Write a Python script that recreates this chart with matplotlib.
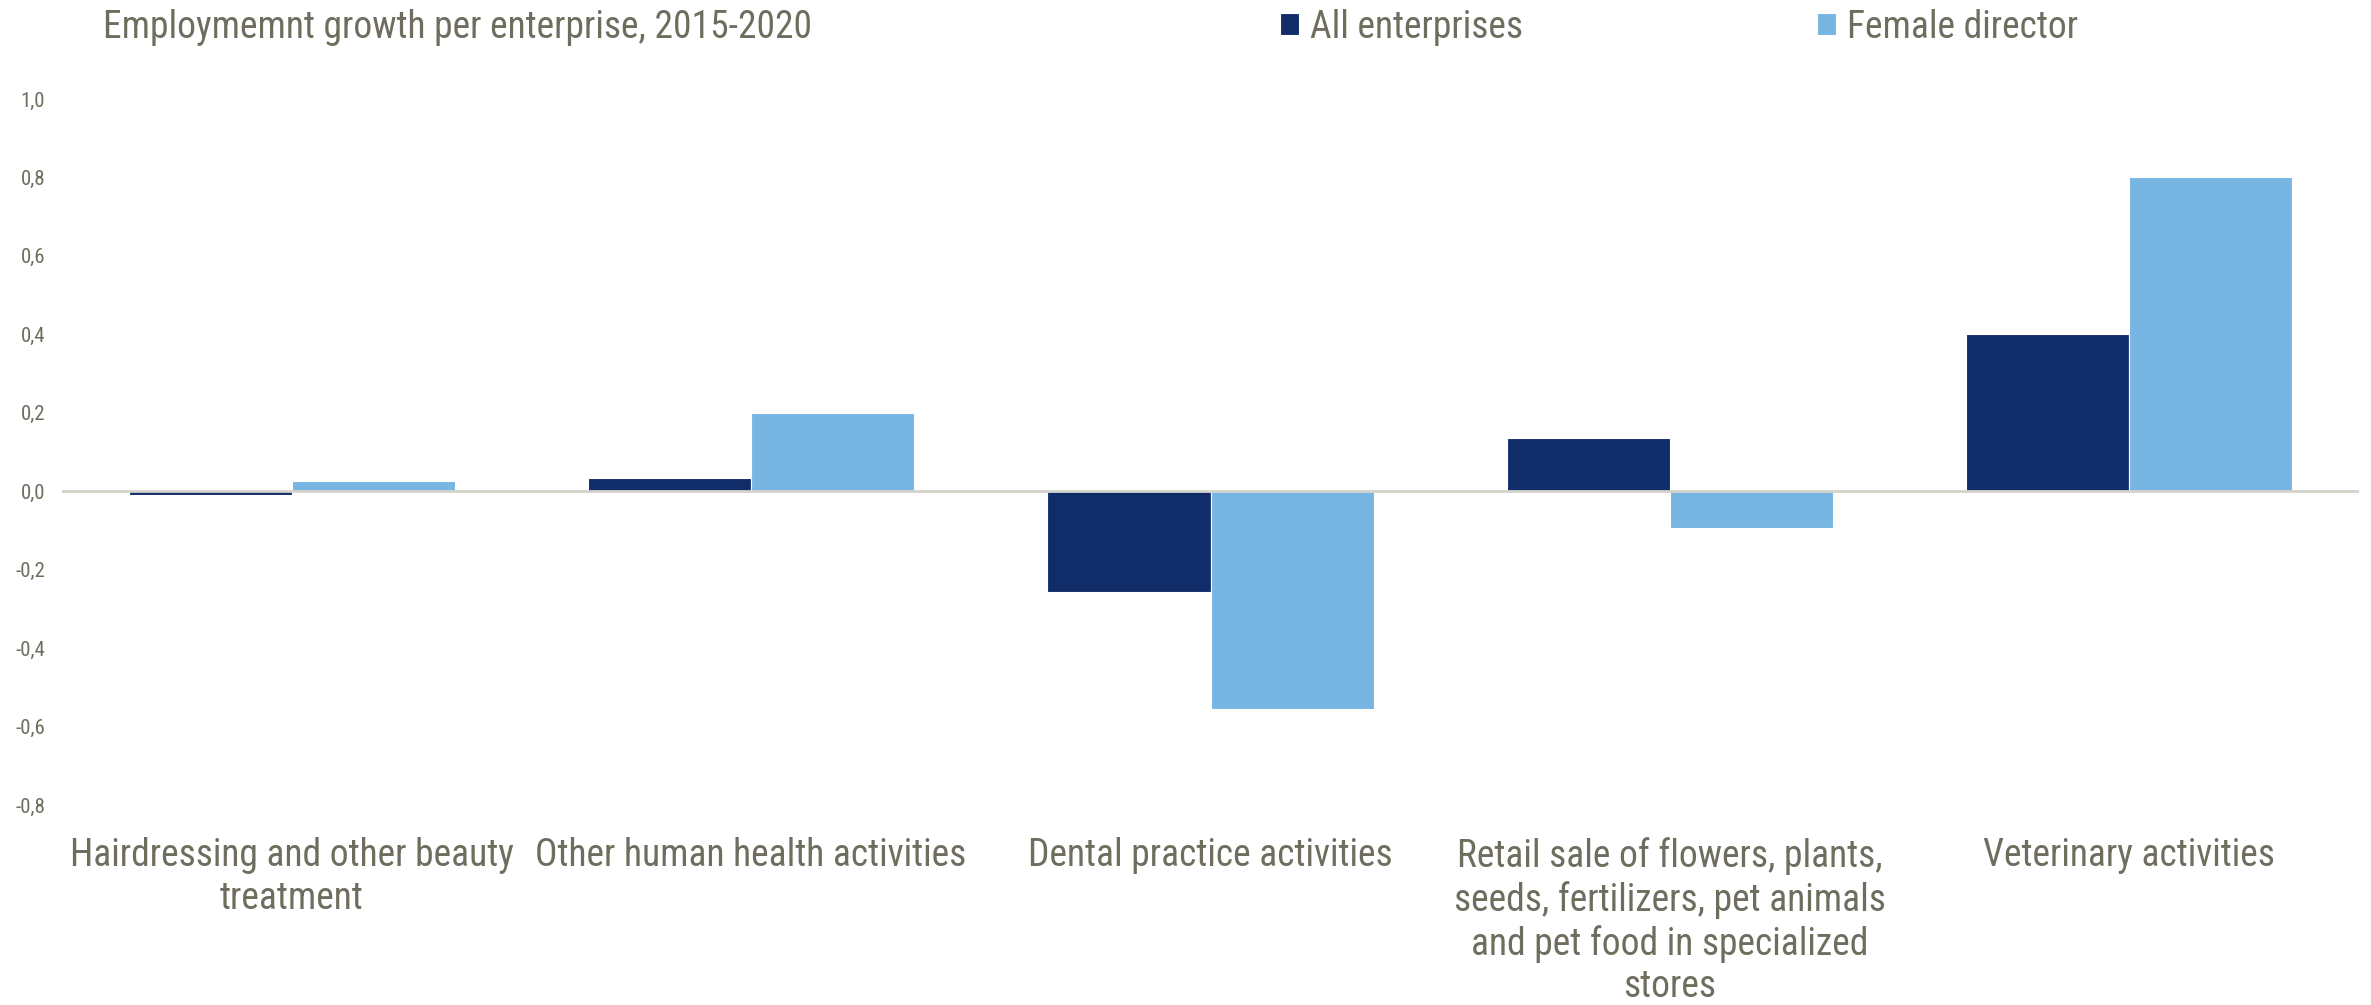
import matplotlib.pyplot as plt
import numpy as np

# sectors on the x axis
sectors = [
    "Hairdressing and other beauty\ntreatment",
    "Other human health activities",
    "Dental practice activities",
    "Retail sale of flowers, plants,\nseeds, fertilizers, pet animals\nand pet food in specialized\nstores",
    "Veterinary activities",
]
all_enterprises = [-0.01, 0.034, -0.258, 0.135, 0.40]
female_director = [0.025, 0.20, -0.556, -0.095, 0.80]
yticks = [-0.8, -0.6, -0.4, -0.2, 0.0, 0.2, 0.4, 0.6, 0.8, 1.0]

navy = "#112D69"
light = "#77B5E3"
txt = "#6E6D5E"

plt.rcParams["font.family"] = ["Roboto Condensed", "Liberation Sans", "DejaVu Sans"]

fig = plt.figure(figsize=(23.71, 10.05), dpi=100)
ax = fig.add_axes([62 / 2371, 1 - 805 / 1005, (2359 - 62) / 2371, (805 - 99) / 1005])

x = np.arange(len(sectors))
w = 0.355
b1 = ax.bar(x - w / 2, all_enterprises, w, color=navy, edgecolor="white", linewidth=0.8,
            label="All enterprises", zorder=2)
b2 = ax.bar(x + w / 2, female_director, w, color=light, edgecolor="white", linewidth=0.8,
            label="Female director", zorder=2)

ax.axhline(0, color="#D3D3CB", linewidth=2, zorder=3)
ax.set_xlim(-0.5, len(sectors) - 0.5)
ax.set_ylim(-0.8, 1.0)

ax.set_yticks(yticks)
ax.set_yticklabels([f"{v:.1f}".replace(".", ",") for v in yticks], fontsize=15, color=txt)
ax.set_xticks(x)
ax.set_xticklabels(sectors, fontsize=27, color=txt, linespacing=1.2)
ax.tick_params(axis="both", length=0)
ax.tick_params(axis="y", pad=12)
ax.tick_params(axis="x", pad=23)
for s in ax.spines.values():
    s.set_visible(False)

fig.text(103 / 2371, 1 - 27 / 1005, "Employmemnt growth per enterprise, 2015-2020",
         fontsize=27, color=txt, va="center", ha="left")

fig.legend(handles=[b1, b2], loc="center left", bbox_to_anchor=(1280 / 2371, 1 - 27 / 1005),
           ncol=2, frameon=False, fontsize=27, labelcolor=txt, borderpad=0, borderaxespad=0,
           handlelength=0.5, handleheight=0.5, handletextpad=0.3, columnspacing=7.85)

fig.savefig("out.png", dpi=100)
